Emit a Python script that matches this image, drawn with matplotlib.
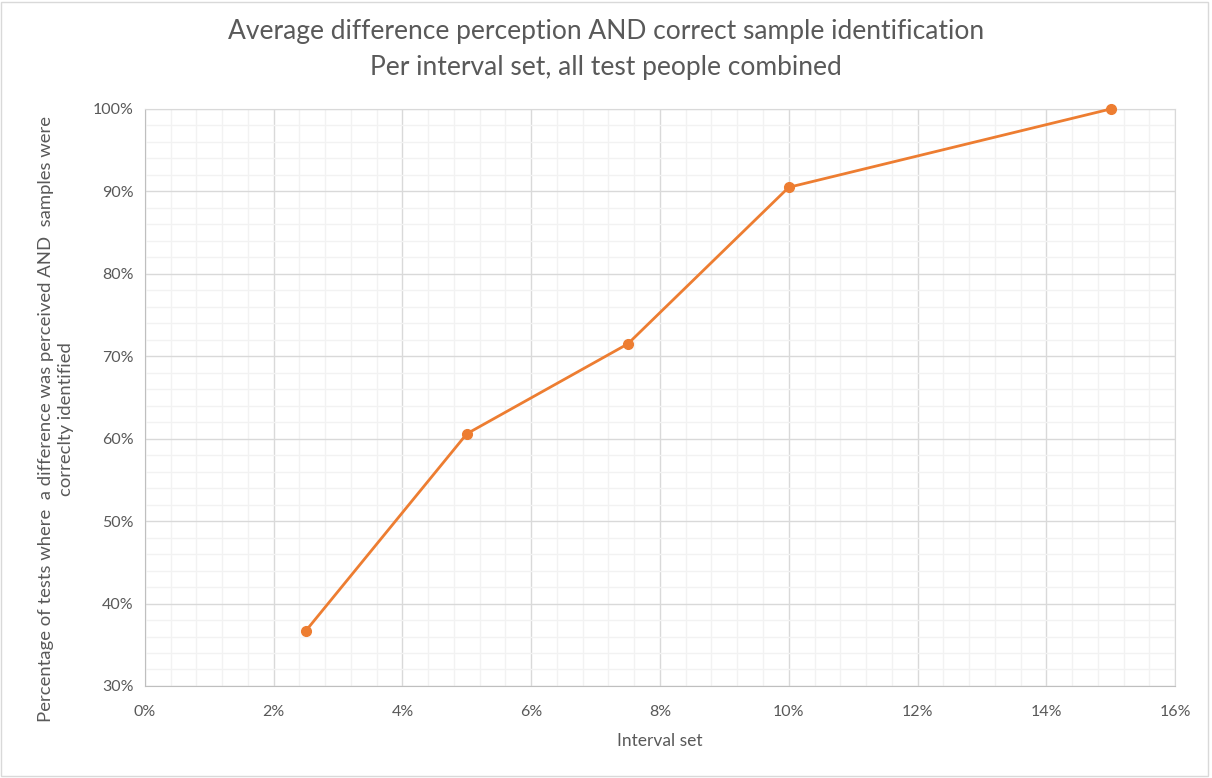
import matplotlib
matplotlib.use("Agg")
import matplotlib.pyplot as plt
from matplotlib.ticker import MultipleLocator, PercentFormatter
from matplotlib.patches import Rectangle

interval_set = [2.5, 5.0, 7.5, 10.0, 15.0]
pct_correct = [36.7, 60.6, 71.5, 90.5, 100.0]

title_line1 = "Average difference perception AND correct sample identification"
title_line2 = "Per interval set, all test people combined"
xlabel = "Interval set"
ylabel = "Percentage of tests where  a difference was perceived AND  samples were\ncorreclty identified"

plt.rcParams['font.family'] = ['Lato', 'DejaVu Sans']
txt = '#595959'

fig = plt.figure(figsize=(12.12, 7.78), dpi=100)
ax = fig.add_axes([0.1196, 0.1183, 0.8499, 0.7416])

ax.plot(interval_set, pct_correct, color='#ED7D31', lw=2.0, marker='o', ms=7, zorder=3, clip_on=False)

ax.set_xlim(0, 16)
ax.set_ylim(30, 100)
ax.xaxis.set_major_locator(MultipleLocator(2))
ax.xaxis.set_minor_locator(MultipleLocator(0.4))
ax.yaxis.set_major_locator(MultipleLocator(10))
ax.yaxis.set_minor_locator(MultipleLocator(2))
ax.xaxis.set_major_formatter(PercentFormatter(decimals=0))
ax.yaxis.set_major_formatter(PercentFormatter(decimals=0))
ax.grid(which='major', color='#D9D9D9', lw=1.0)
ax.grid(which='minor', color='#F2F2F2', lw=1.0)
ax.set_axisbelow(True)
ax.tick_params(which='both', length=0, labelsize=11.5, colors=txt)
ax.tick_params(axis='x', pad=14)
ax.tick_params(axis='y', pad=8)
for s in ['top', 'right']:
    ax.spines[s].set_color('#D9D9D9')
for s in ['left', 'bottom']:
    ax.spines[s].set_color('#BFBFBF')

ax.set_xlabel(xlabel, fontsize=12.5, color=txt, labelpad=10)
ax.set_ylabel(ylabel, fontsize=13.3, color=txt, linespacing=1.3)
ax.yaxis.set_label_coords(-0.069, 0.462)

fig.text(0.5, 1 - 32/778, title_line1, ha='center', va='center', fontsize=19, color=txt)
fig.text(0.5, 1 - 67/778, title_line2, ha='center', va='center', fontsize=19, color=txt)

fig.patches.append(Rectangle((0.001, 0.003), 0.996, 0.994, transform=fig.transFigure,
                             fill=False, edgecolor='#D9D9D9', lw=1))

fig.savefig('out.png', dpi=100)
